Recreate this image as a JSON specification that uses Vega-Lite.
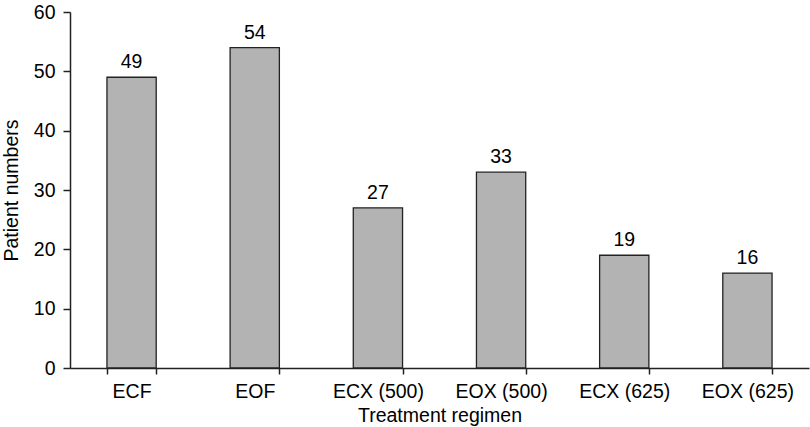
{
  "$schema": "https://vega.github.io/schema/vega-lite/v6.json",
  "autosize": {"type": "none"},
  "padding": {"left": 70, "top": 12, "right": 1, "bottom": 59},
  "width": 739,
  "height": 356,
  "background": "white",
  "config": {
    "view": {"stroke": null},
    "font": "Liberation Sans",
    "axis": {
      "grid": false,
      "domainColor": "#222",
      "domainWidth": 1.5,
      "tickColor": "#222",
      "tickWidth": 1.5,
      "labelColor": "#000",
      "titleColor": "#000",
      "labelFont": "Liberation Sans",
      "titleFont": "Liberation Sans",
      "labelFontSize": 19.5,
      "titleFontSize": 19.5,
      "titleFontWeight": "normal"
    }
  },
  "data": {
    "values": [
      {"regimen": "ECF", "patients": 49},
      {"regimen": "EOF", "patients": 54},
      {"regimen": "ECX (500)", "patients": 27},
      {"regimen": "EOX (500)", "patients": 33},
      {"regimen": "ECX (625)", "patients": 19},
      {"regimen": "EOX (625)", "patients": 16}
    ]
  },
  "encoding": {
    "x": {
      "field": "regimen",
      "type": "nominal",
      "sort": null,
      "scale": {"paddingInner": 0.6, "paddingOuter": 0.3},
      "axis": {
        "title": "Treatment regimen",
        "labelAngle": 0,
        "tickBand": "extent",
        "tickSize": 6,
        "labelPadding": 8,
        "titlePadding": 6
      }
    },
    "y": {
      "field": "patients",
      "type": "quantitative",
      "scale": {"domain": [0, 60]},
      "axis": {
        "title": "Patient numbers",
        "values": [0, 10, 20, 30, 40, 50, 60],
        "tickSize": 7,
        "labelPadding": 8,
        "titlePadding": 12
      }
    }
  },
  "layer": [
    {
      "mark": {"type": "bar", "fill": "#b3b3b3", "stroke": "#222", "strokeWidth": 1.3}
    },
    {
      "mark": {"type": "text", "baseline": "alphabetic", "dy": -9, "fontSize": 19.5, "font": "Liberation Sans", "color": "#000"},
      "encoding": {"text": {"field": "patients", "type": "quantitative"}}
    }
  ]
}
